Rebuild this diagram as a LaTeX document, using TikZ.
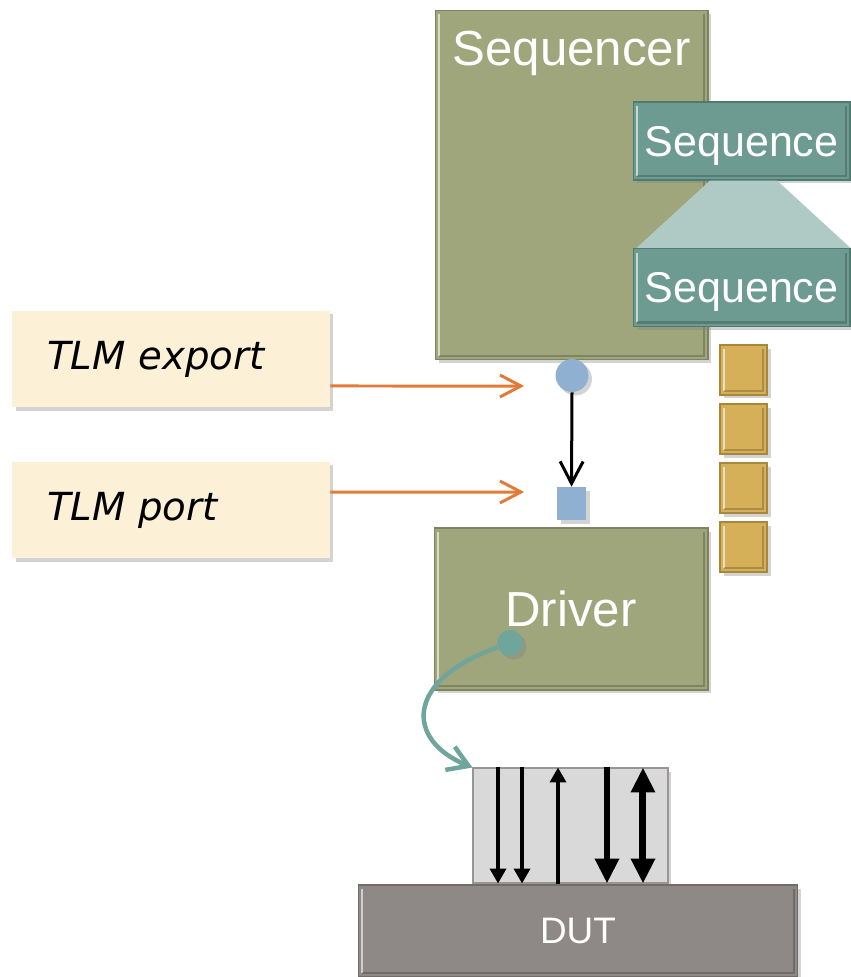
\documentclass[tikz,border=0pt]{standalone}
\usepackage{fontspec}
\setmainfont{Liberation Sans}
\newfontfamily\handfont{DejaVu Sans}
\usetikzlibrary{arrows.meta,shadows}
\definecolor{volive}{HTML}{A0A67C}
\definecolor{volivedark}{HTML}{7E8460}
\definecolor{vteal}{HTML}{6E9B91}
\definecolor{vtealdark}{HTML}{4F7A70}
\definecolor{vteallight}{HTML}{AFCAC4}
\definecolor{vbluedot}{HTML}{8FB0D0}
\definecolor{vgold}{HTML}{D6B058}
\definecolor{vgolddark}{HTML}{A8873A}
\definecolor{vcream}{HTML}{FCF0D6}
\definecolor{vorange}{HTML}{E07B39}
\definecolor{vcurve}{HTML}{6FA59B}
\definecolor{vlightgray}{HTML}{D9D9D9}
\definecolor{vgrayline}{HTML}{9A9492}
\definecolor{vdut}{HTML}{8E8886}

\begin{document}
\begin{tikzpicture}[x=0.02cm, y=-0.02cm,
		shade/.style={drop shadow={opacity=0.35, shadow xshift=0.07cm, shadow yshift=-0.07cm}},
		bevel/.style={path picture={
			\draw[white, opacity=0.6, line width=1.2pt] ([xshift=0.08cm, yshift=-0.08cm]path picture bounding box.north west) -- ([xshift=0.08cm, yshift=0.08cm]path picture bounding box.south west);
			\draw[black, opacity=0.2, line width=1.2pt] ([xshift=0.08cm, yshift=0.08cm]path picture bounding box.south west) -- ([xshift=-0.08cm, yshift=0.08cm]path picture bounding box.south east) -- ([xshift=-0.08cm, yshift=-0.08cm]path picture bounding box.north east);}},
		block/.style={shade, bevel, draw=volivedark, fill=volive, line width=0.6pt, inner sep=0pt, text=white, font=\fontsize{28}{32}\selectfont},
		seqbox/.style={shade, bevel, draw=vtealdark, fill=vteal, line width=0.6pt, inner sep=0pt, minimum width=4.34cm, minimum height=1.56cm, text=white, text depth=0pt, font=\fontsize{24.5}{28}\selectfont},
		item/.style={shade, bevel, draw=vgolddark, fill=vgold, line width=0.6pt, minimum width=0.94cm, minimum height=1cm, inner sep=0pt},
		note/.style={shade, fill=vcream, inner sep=0pt, inner xsep=0.7cm, minimum height=1.94cm, text width=4.96cm, align=left, font=\handfont\itshape\fontsize{22}{26}\selectfont},
		tlmarrow/.style={color=vorange, line width=0.06cm, -{Straight Barb[length=0.42cm, width=0.44cm]}},
		sig/.style={line width=0.07cm, -{Triangle[length=0.3cm, width=0.32cm]}},
		bigsig/.style={line width=0.14cm, -{Triangle[length=0.5cm, width=0.46cm]}}
	]
		\useasboundingbox (0,0) rectangle (850,977);

		% sequencer with its sequences
		\node[block, minimum width=5.46cm, minimum height=7cm, label={[anchor=north, yshift=-0.3cm, text=white, font=\fontsize{28}{32}\selectfont]north:Sequencer}] (seqr) at (571.5,185) {};
		\node[seqbox] (seqa) at (741.5,141) {Sequence};
		\node[seqbox] (seqb) at (741.5,287.5) {Sequence};
		\fill[color=vteallight] ([xshift=-0.63cm]seqa.south) -- ([xshift=0.71cm]seqa.south) -- (seqb.north east) -- ([xshift=0.08cm]seqb.north west) -- cycle;

		% ports
		\node[shade, circle, fill=vbluedot, minimum size=0.66cm, inner sep=0pt] (exp) at (572,375.5) {};
		\node[shade, rectangle, fill=vbluedot, minimum width=0.58cm, minimum height=0.66cm, inner sep=0pt] (port) at (571.5,503.5) {};
		\draw[color=black, line width=0.06cm, -{Straight Barb[length=0.44cm, width=0.46cm]}] (exp.south) -- (port.north);

		% sequence items
		\foreach \i in {0,...,3}
			\node[item] (item\i) at (743.5,{370+59*\i}) {};

		% driver
		\node[block, minimum width=5.48cm, minimum height=3.24cm] (drv) at (571,609) {Driver};
		\node[shade, circle, fill=vcurve, minimum size=0.52cm, inner sep=0pt] (drvdot) at (510,643) {};

		% labels
		\node[note] (tlmexp) at (171,359) {TLM export};
		\node[note] (tlmport) at (171,510) {TLM port};
		\draw[tlmarrow] ([yshift=-0.54cm]tlmexp.east) -- ([xshift=-0.62cm, yshift=-0.21cm]exp.west);
		\draw[tlmarrow] ([yshift=0.36cm]tlmport.east) -- ([xshift=-0.65cm, yshift=0.23cm]port.west);

		% interface and DUT
		\node[shade, draw=vgrayline, fill=vlightgray, line width=0.6pt, minimum width=3.9cm, minimum height=2.3cm, inner sep=0pt] (iface) at (570.5,825.5) {};
		\node[shade, bevel, draw=vdut!80!black, fill=vdut, line width=0.6pt, minimum width=8.8cm, minimum height=1.84cm, inner sep=0pt, text=white, font=\fontsize{21}{25}\selectfont] (dut) at (578,931) {DUT};
		\draw[color=vcurve, line width=0.09cm, -{Straight Barb[length=0.4cm, width=0.5cm]}] (drvdot) .. controls (405,680) and (405,740) .. (iface.north west);

		\draw[sig] ([xshift=-1.45cm]iface.north) -- ([xshift=-1.45cm]iface.south);
		\draw[sig] ([xshift=-0.97cm]iface.north) -- ([xshift=-0.97cm]iface.south);
		\draw[sig] ([xshift=-0.25cm]iface.south) -- ([xshift=-0.25cm]iface.north);
		\draw[bigsig] ([xshift=0.73cm]iface.north) -- ([xshift=0.73cm]iface.south);
		\draw[line width=0.14cm, {Triangle[length=0.5cm, width=0.46cm]}-{Triangle[length=0.5cm, width=0.46cm]}] ([xshift=1.45cm]iface.north) -- ([xshift=1.45cm]iface.south);
	\end{tikzpicture}
\end{document}
